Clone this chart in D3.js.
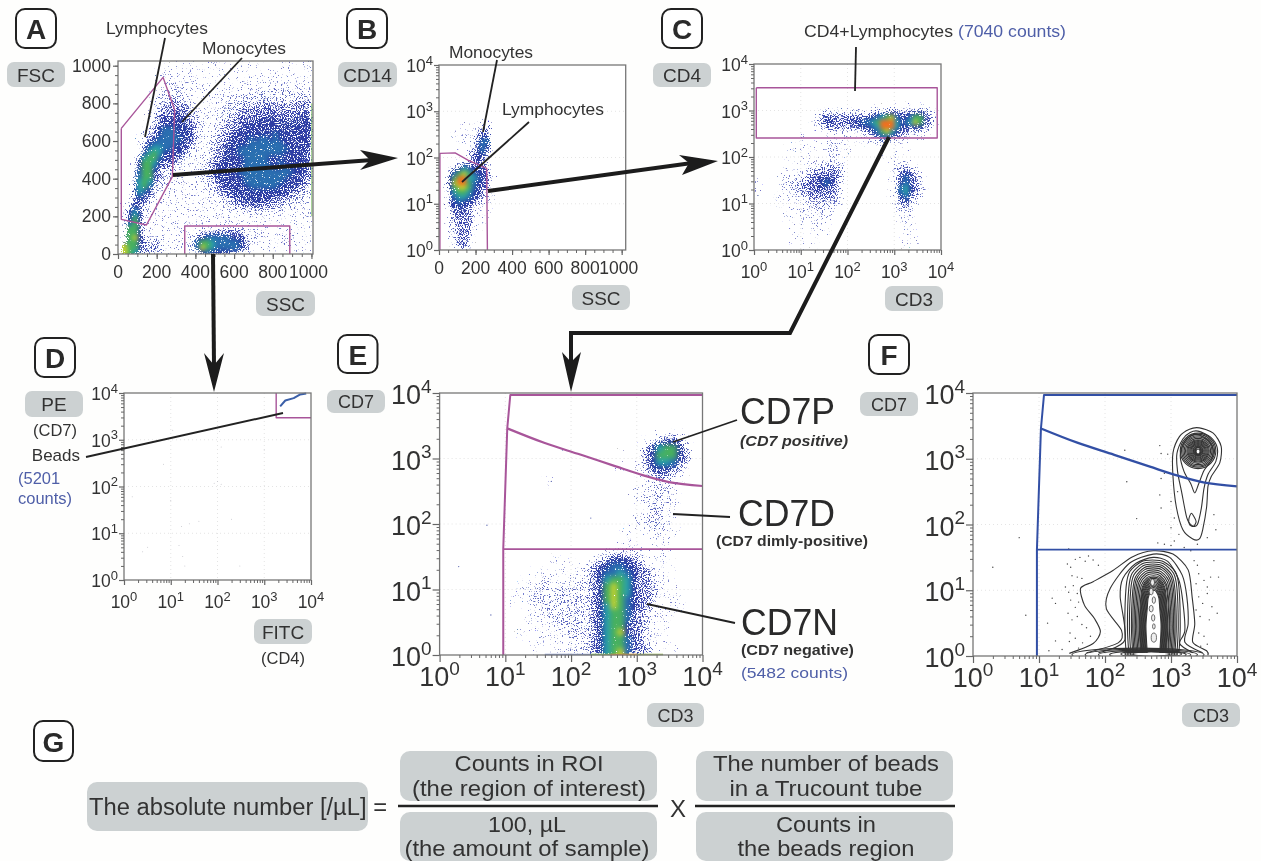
<!DOCTYPE html>
<html><head><meta charset="utf-8">
<script src="https://cdn.jsdelivr.net/npm/d3@7/dist/d3.min.js"></script>
<style>html,body{margin:0;padding:0;background:#fefefd}svg{display:block}text{font-family:"Liberation Sans",Arial,sans-serif}</style>
</head><body><svg id="c" width="1261" height="861"></svg>
<script>
// ---------- data ----------
// density digits: 0 (empty) .. 9 (peak). Panel A columns: SSC 0..1000 step 25; rows: FSC, top row first
const fscRowTop = 999;
const densityA = [
"0000000000 0011010001 1010001101 0001100011",
"0000000000 1111101010 1010011010 1010111011",
"0000000011 1111110101 0101101101 1011011011",
"0000000011 1111111011 0101101010 1111011111",
"0000000001 1211111101 1101011101 1111111111",
"0000000001 1212111111 1111111111 1121211111",
"0000000112 2221111111 1111121212 2222222222",
"0000000122 2222111111 1112122222 2222222222",
"0000000122 2322211111 1112222222 3222222323",
"0000000123 3333211111 1122223233 3333323333",
"0000000123 3333321111 1222233333 3333333333",
"0000001233 3443321111 1222333333 3433333343",
"0000001234 4444332111 1223333344 4443434344",
"0000001234 4444332111 1233334444 4444444444",
"0000012345 5544432111 2233344444 4444444444",
"0000012345 5544432111 2333444444 4454444444",
"0000123455 5554432112 2334444545 5454444444",
"0000124555 5544321112 2334444555 5555444444",
"0000135665 5444321112 3344455555 5555544443",
"0000146764 4443211122 3344455555 5555444443",
"0001367754 4332111122 3344445555 5444444443",
"0001477643 3321111123 3444445555 5445444443",
"0001477533 3211111223 4444445555 5544544443",
"0002577432 2211111223 4444455555 5555554443",
"0002577332 2111111223 4444445555 5555544433",
"0002676322 2111111122 3444445555 5555444432",
"0003675221 2111111122 3344444555 5554444332",
"0003654211 1111111112 2344444444 4444443322",
"0003543211 1111111111 2233444444 4444332222",
"0013432111 1111111111 1223334444 4333322221",
"0124321111 1111111111 1122333343 3332222111",
"0135321111 0111111111 1111222222 2222111111",
"0146421111 1011011111 1111111211 1111111111",
"0147411111 1101101111 1111111111 1111011011",
"0157311111 1111110101 0111010111 0101011011",
"0177311111 1111111111 1222221111 1001010101",
"0177411111 1111112333 3333331111 1011121001",
"0178421121 1111113455 5554442211 1112222111",
"0277432321 1111125776 5555543211 1111211111",
"0877332321 1111125876 5555543111 1111111011",
"0876332321 1111112454 4443311100 0101011000"];
// Panel B columns: SSC 0..325 step 25; rows: log10 CD14 from 2.9 down to 0
const densityB = [
"0000000000000","0000000011000","0000010012300","0000111023300","0001111034400",
"0000110135500","0000100235400","0000001345300","0000001344200","0000002343100",
"0001233343200","0013465444300","0035787544310","0047996654310","0048997544310",
"0047887543310","0036776443210","0035665432210","0034544332100","0034443221100",
"0023433211100","0023333211000","0023333101000","0022333101000","0022333100000",
"0012333100000","0012332000000","0002332000000","0000231000000"];
// Panel C columns: log10 CD3 0..4 step 0.1; rows: log10 CD4 from 3.1 down to 0
const densityC = [
"0000000000 0000000000 0000000000 0000000000",
"0000000000 0000000100 0010011011 1111111000",
"0000000000 0000222222 2222233334 3333343210",
"0000000000 0002343333 3333445678 5445773320",
"0000000000 0012344333 4445567999 6456873320",
"0000000000 0001233333 3334456999 6443443210",
"0000000000 0000011111 1122345786 4332221000",
"0000000000 1000000011 1111123553 3221110000",
"0000000000 1100011111 0011112221 1110000000",
"0000000101 1010112211 0000001110 1010000000",
"0000000100 1100112111 0000000100 1000000000",
"0000000010 1100112110 0000000100 1010000000",
"0000000101 1000112110 0000000001 0010000000",
"0000000100 0111222210 0000000000 2111000000",
"0000001010 1122323320 0000000001 2332100000",
"0000001011 1233333320 0000000000 2343210000",
"0000101112 2333444320 0000000001 2454321000",
"1000011222 3334454310 0000000001 2453320000",
"1000011222 3334433310 0000000001 2564320000",
"1000011122 2333333310 0000000001 2564321000",
"0000011111 2233333210 0000000001 2453210000",
"0000101111 1222222210 0000000000 1342100000",
"0000011011 1222222110 0000000000 1231100000",
"0000001011 1112212100 0000000000 1221000000",
"0000001001 1111111000 0000000000 1121000000",
"0000000100 1011110000 0000000000 0111000000",
"0000000000 1011100000 0000000000 0111000000",
"0000000010 1011100000 0000000000 0110000000",
"0000000010 1001010000 0000000000 0011000000",
"0000000010 1101000000 0000000000 0011000000",
"0000000010 1001000000 0000000000 0010100000",
"0000000000 1001000000 0000000000 0000000000"];
// Panel E columns: log10 CD3 0..4 step 0.1; rows: log10 CD7 from 3.3 down to 0
const densityE = [
"0000000000 0000000000 0000000000 0001222000",
"0000000000 0000000000 0000000000 0123443100",
"0000000000 0000000000 0000000000 1346774200",
"0000000000 0000000000 0000000100 1347774300",
"0000000000 0000000000 0000000000 1346653200",
"0000000000 0000000000 0000000100 1244432100",
"0000000000 0000000000 0000000000 1123321000",
"0000000000 0000001000 0000000000 0122110000",
"0000000000 0000000000 0000000001 1122210000",
"0000000000 0000000000 0000000001 1122110000",
"0000000000 0000000000 0000000000 1221211000",
"0000000000 0000000000 0000000000 0122110000",
"0000000000 0000000000 0000000001 1222110000",
"0000000000 0000000000 0000000001 1222100000",
"0000000000 0000000000 0000000000 0122110000",
"0000000000 0000000000 0000000010 1012110000",
"0000000000 0000000000 0000000010 0011100000",
"0000000000 0000000000 0000001111 0001100000",
"0000000000 0000000000 0000112222 1101100000",
"0000000000 0000000100 0001234443 2101100000",
"0000000000 0000000111 1123445544 3211010000",
"0000000000 0001011111 1123455654 3321100000",
"0000000000 0000111111 1123467764 3321100000",
"0000000000 0011122121 2223478764 3321110000",
"0000000000 0011221222 2223478764 3331110000",
"0000000000 0101222222 2223478754 3321111000",
"0000000000 0001122212 2223468754 3321111000",
"0000000000 0001112222 2223467753 3211110000",
"0000000000 0001111222 2223467753 3211100000",
"0000000000 0001011122 2223467743 3211100000",
"0000000000 0010011112 2223467843 3211100000",
"0000000000 0001011111 2223467753 3211000000",
"0000000000 0000110111 1123467753 3210100000",
"0000000000 0000101111 2223467853 3311010000"];

const gateALymph = [[17,667],[233,938],[293,765],[281,411],[147,154],[17,184],[17,667]];
const gateADebris = [[345,0],[345,149],[888,149],[888,0]];
const gateB = [[5,1],[5,123],[88,126],[161,87],[261,58],[265,1]];
const gateC = [[1.12,3090],[8300,3090],[8300,257],[1.12,257],[1.12,3090]];
const gateD = [[1800,10000],[1800,2960],[10000,2960]];
const gateCD7Outer = [[9.3,1],[9.3,41.4],[10.7,2884],[11.9,9330],[10000,9330]];
const gateCD7Mid = [[10.7,2884],[38.9,1738],[138,1148],[479,759],[1148,569],[3090,437],[10000,380]];
const gateCD7Low = [[9.3,41.4],[10000,41.4]];
const beadsCurve = [[2190,5190],[2820,6920],[4270,7760],[5890,9330],[7900,9800]];
const strayD = [[100,128],[120,112],[85,118],[3.2,5],[17,14],[25,16],[15,5.5],[40,18],[18,3.2],[2.5,4],[10,50],[200,20],[1.5,60],[7,300],[300,2],[1000,600],[120,700],[11,1600],[110,1500],[20,2]];
const pileupE = [[1.6,2.3,"#8a9bd0"],[2.3,2.6,"#7fbf5a"],[2.6,3.0,"#e0a030"],[3.0,3.4,"#9ab860"]];
const strayE = [[0.29,1.35],[0.78,0.61],[0.72,1.98],[2.3,2.09],[1.87,3.13],[1.7,2.65]];

// Panel F contours, decades (log10 CD3, log10 CD7)
const tailContours = [
 [[3.43,3.47],[3.64,3.39],[3.76,3.19],[3.74,2.94],[3.61,2.73],[3.56,2.58],[3.54,2.27],[3.48,1.92],[3.43,1.78],[3.33,1.78],[3.18,1.92],[3.08,2.27],[3.03,2.73],[3.03,3.09],[3.13,3.34],[3.28,3.45]],
 [[3.41,3.42],[3.60,3.33],[3.70,3.17],[3.68,2.96],[3.56,2.76],[3.50,2.55],[3.46,2.25],[3.40,2.0],[3.32,1.98],[3.24,2.1],[3.16,2.5],[3.10,2.8],[3.09,3.08],[3.18,3.3],[3.29,3.4]],
 [[3.31,2.17],[3.38,2.05],[3.34,1.97],[3.28,2.0],[3.27,2.08]],
 [[3.41,3.37],[3.57,3.27],[3.64,3.12],[3.60,2.96],[3.50,2.82],[3.42,2.62],[3.36,2.48],[3.30,2.62],[3.2,2.8],[3.14,3.05],[3.2,3.25],[3.3,3.35]]
];
const spotRings = [[3.41,3.12,.27,.27],[3.41,3.12,.25,.25],[3.41,3.12,.23,.23],[3.41,3.12,.21,.21],[3.41,3.12,.19,.19],[3.41,3.12,.17,.17],[3.41,3.12,.155,.155],[3.41,3.12,.14,.14],[3.41,3.12,.125,.125],[3.41,3.12,.11,.11],[3.41,3.12,.095,.095],[3.41,3.12,.08,.08],[3.41,3.12,.07,.07],[3.41,3.12,.06,.06],[3.41,3.12,.05,.05],[3.41,3.12,.04,.05]];
const lowContours = [
 [[1.46,.04],[1.82,.19],[1.93,.37],[1.84,.57],[1.69,.77],[1.63,1.03],[1.82,1.13],[2.12,1.30],[2.42,1.51],[2.73,1.60],[3.03,1.55],[3.26,1.31],[3.32,.90],[3.36,.49],[3.33,.21],[3.54,.08],[3.56,.01]],
 [[1.72,.05],[2.2,.2],[2.25,.39],[2.02,.72],[2.08,1.03],[2.37,1.41],[2.73,1.55],[2.98,1.50],[3.17,1.23],[3.24,.90],[3.26,.49],[3.21,.21],[3.48,.05]],
 [[1.9,.05],[2.3,.24],[2.23,.90],[2.27,1.18],[2.47,1.41],[2.73,1.5],[2.95,1.44],[3.11,1.18],[3.17,.90],[3.21,.39],[3.13,.19],[3.33,.05]]
];
// column-shaped contours: left edge, right edge, top (decades)
const columnRings = [[2.32,3.12,1.46],[2.36,3.09,1.43],[2.39,3.06,1.40],[2.42,3.04,1.37],[2.44,3.02,1.34],[2.46,3.0,1.31],[2.48,2.98,1.28],[2.50,2.96,1.25],[2.52,2.95,1.22],[2.54,2.93,1.2],[2.55,2.92,1.18],[2.56,2.91,1.16],[2.57,2.9,1.14],[2.58,2.89,1.12],[2.59,2.88,1.1],[2.6,2.87,1.08],[2.61,2.86,1.06],[2.62,2.85,1.04],[2.63,2.84,1.02],[2.64,2.83,1.0]];
const baseRings = [[2.5,.02,1.0,.1],[2.55,.02,.85,.085],[2.6,.02,.7,.07],[2.65,.02,.58,.06],[2.7,.03,.46,.05],[2.7,.03,.4,.045],[2.7,.03,.36,.04],[2.7,.03,.32,.037],[2.7,.03,.28,.035]];
const coreHoles = [[2.72,1.12,.03,.05],[2.7,.98,.03,.05],[2.74,.85,.025,.05],[2.7,.72,.03,.05],[2.73,.58,.025,.05],[2.74,.45,.02,.04],[2.74,.28,.04,.07]];
const dotsF = [[1.43,1.40],[1.48,1.35],[1.55,1.47],[1.62,1.5],[1.7,1.44],[1.75,1.52],[1.82,1.46],[1.9,1.38],[1.5,1.22],[1.58,1.2],[1.65,1.18],[1.4,1.05],[1.45,.97],[1.52,1.07],[1.58,.95],[1.2,.88],[1.25,.8],[1.48,.85],[1.55,.74],[1.6,.82],[1.44,.65],[1.5,.55],[1.58,.6],[1.65,.48],[1.72,.43],[1.47,.35],[1.46,.22],[1.55,.27],[1.66,.2],[1.78,.3],[1.13,.5],[1.25,.23],[1.15,.08],[1.35,.1],[1.6,.12],
[3.3,1.6],[3.35,1.45],[3.4,1.38],[3.42,1.25],[3.5,1.15],[3.38,1.1],[3.55,1.05],[3.6,1.2],[3.65,1.45],[3.72,1.2],[3.42,.9],[3.48,.8],[3.55,.95],[3.62,.75],[3.38,.7],[3.44,.6],[3.58,.55],[3.7,.65],[3.42,.35],[3.5,.3],[3.55,.18],[3.45,.15],
[2.8,1.72],[2.9,1.7],[3.0,1.68],[3.05,1.75],[3.12,1.85],[3.0,1.95],[3.05,2.1],[2.85,2.25],[3.0,2.35],[3.1,2.5],[2.83,2.45],[2.85,2.7],[2.9,2.78],[2.83,3.2],[2.85,3.08],[2.95,3.07],[2.3,3.13],[2.33,2.65],[2.48,2.09],[3.65,2.15],[3.68,1.92],[3.55,1.8],[3.4,1.7],[3.2,1.65],[.3,1.35],[.8,.62],[.7,1.8],[1.45,1.63]];

const linearTicks = [0,200,400,600,800,1000];
const linearMinor = d3.range(0,1001,50);
const decades = [1,10,100,1000,10000];

// ---------- layout and style ----------
const ink="#333", blue="#4f5fa8", pink="#a8559a", gateBlue="#3350a5", chip="#ccd1d2";
const levelAlpha=[0,.12,.25,.42,.62,.85,1,1,1,1];
const levelColor=["#fff","#7a84cc","#5c68c0","#3a46ad","#2d3fa5","#2a6fb0","#2aa0a8","#47b060","#c0d030","#f07020"];

const svg=d3.select("#c");
const defs=svg.append("defs");
function stipple(id,sd,seed){
  const f=defs.append("filter").attr("id",id).attr("x",0).attr("y",0).attr("width","100%").attr("height","100%")
    .attr("color-interpolation-filters","sRGB");
  f.append("feGaussianBlur").attr("in","SourceGraphic").attr("stdDeviation",sd).attr("result","b");
  f.append("feTurbulence").attr("type","fractalNoise").attr("baseFrequency",.85).attr("numOctaves",2).attr("seed",seed).attr("result","n");
  f.append("feColorMatrix").attr("in","n").attr("type","matrix").attr("values","0 0 0 0 0 0 0 0 0 0 0 0 0 0 0 0 0 0 1 0").attr("result","na");
  f.append("feComposite").attr("in","b").attr("in2","na").attr("operator","arithmetic")
    .attr("k1",0).attr("k2",.55).attr("k3",1).attr("k4",-.73).attr("result","sum");
  const m=f.append("feComponentTransfer").attr("in","sum").attr("result","mask");
  m.append("feFuncA").attr("type","linear").attr("slope",14).attr("intercept",0);
  const s=f.append("feComponentTransfer").attr("in","b").attr("result","solid");
  s.append("feFuncA").attr("type","linear").attr("slope",60).attr("intercept",0);
  f.append("feComposite").attr("in","solid").attr("in2","mask").attr("operator","in").attr("result","dots");
  f.append("feGaussianBlur").attr("in","dots").attr("stdDeviation",.5);
}
stipple("st1",2.0,3); stipple("st2",2.0,8); stipple("st3",2.0,14); stipple("st4",2.6,21);
defs.append("filter").attr("id","soft").attr("x",0).attr("y",0).attr("width","100%").attr("height","100%")
  .append("feGaussianBlur").attr("stdDeviation",.45);

const root=svg.append("g").attr("filter","url(#soft)");
root.append("rect").attr("width",1261).attr("height",861).attr("fill","#fefefd");

function T(s,x,y,o={}){
  const t=root.append("text").attr("x",x).attr("y",y).text(s)
    .attr("font-size",o.size||17).attr("fill",o.fill||ink)
    .attr("text-anchor",o.anchor||"middle").attr("dominant-baseline",o.base||"central");
  if(o.weight)t.attr("font-weight",o.weight);
  if(o.italic)t.attr("font-style","italic");
  if(o.len)t.attr("textLength",o.len).attr("lengthAdjust","spacingAndGlyphs");
  return t;
}
function chipBox(x0,y0,x1,y1,r=7){root.append("rect").attr("x",x0).attr("y",y0).attr("width",x1-x0).attr("height",y1-y0).attr("rx",r).attr("fill",chip);}
function chipText(s,x0,y0,x1,y1,o={}){chipBox(x0,y0,x1,y1);T(s,(x0+x1)/2,(y0+y1)/2+.5,Object.assign({size:19},o));}
function letter(s,x0,y0,x1,y1){
  root.append("rect").attr("x",x0).attr("y",y0).attr("width",x1-x0).attr("height",y1-y0).attr("rx",9)
    .attr("fill","#fff").attr("stroke","#222").attr("stroke-width",2);
  T(s,(x0+x1)/2,(y0+y1)/2+1,{size:28,weight:"bold",fill:"#2a2a2a"});
}

let clipN=0;
function panel(p){
  const x=(p.xLog?d3.scaleLog():d3.scaleLinear()).domain(p.xD).range([p.l,p.r]);
  const y=(p.yLog?d3.scaleLog():d3.scaleLinear()).domain(p.yD).range([p.b,p.t]);
  const id="clip"+(clipN++);
  defs.append("clipPath").attr("id",id).append("rect").attr("x",p.l).attr("y",p.t).attr("width",p.r-p.l).attr("height",p.b-p.t);
  const g=root.append("g");
  g.append("rect").attr("x",p.l).attr("y",p.t).attr("width",p.r-p.l).attr("height",p.b-p.t).attr("fill","#fff");
  const inner=g.append("g").attr("clip-path",`url(#${id})`);
  return {x,y,g,inner,p};
}
function faintGrid(P){
  const {x,y,inner,p}=P;
  [10,100,1000].forEach(v=>{
    if(p.xLog)inner.append("line").attr("x1",x(v)).attr("x2",x(v)).attr("y1",p.t).attr("y2",p.b).attr("stroke","#e4e4e4").attr("stroke-dasharray","1 3");
    if(p.yLog)inner.append("line").attr("y1",y(v)).attr("y2",y(v)).attr("x1",p.l).attr("x2",p.r).attr("stroke","#e4e4e4").attr("stroke-dasharray","1 3");
  });
}
function density(P,rows,xEdge,yEdge,filt){
  const cells=[];
  rows.forEach((r,i)=>{const s=r.replace(/ /g,"");[...s].forEach((ch,j)=>{if(ch!=="0")cells.push({i,j,v:+ch});});});
  const holder=P.inner.append("g").attr("filter",`url(#${filt})`);
  holder.append("rect").attr("x",P.p.l).attr("y",P.p.t).attr("width",P.p.r-P.p.l).attr("height",P.p.b-P.p.t).attr("fill","none").attr("stroke","#fff").attr("stroke-opacity",.001);
  holder.selectAll("rect.c").data(cells).join("rect").attr("class","c")
    .attr("x",d=>P.x(xEdge(d.j))).attr("width",d=>Math.abs(P.x(xEdge(d.j+1))-P.x(xEdge(d.j)))+.5)
    .attr("y",d=>P.y(yEdge(d.i))).attr("height",d=>Math.abs(P.y(yEdge(d.i+1))-P.y(yEdge(d.i)))+.5)
    .attr("fill",d=>levelColor[d.v]).attr("fill-opacity",d=>levelAlpha[d.v]);
}
function gatePath(P,pts,color,w,curved){
  const l=d3.line().x(d=>P.x(d[0])).y(d=>P.y(d[1]));
  if(curved)l.curve(d3.curveMonotoneX);
  P.g.append("path").attr("d",l(pts)).attr("fill","none").attr("stroke",color).attr("stroke-width",w).attr("stroke-linejoin","round");
}
function frame(P){
  const p=P.p;
  P.g.append("rect").attr("x",p.l).attr("y",p.t).attr("width",p.r-p.l).attr("height",p.b-p.t).attr("fill","none").attr("stroke","#777").attr("stroke-width",1.3);
}
function axes(P,big){
  const {x,y,g,p}=P, fs=big?27:17.5, es=big?19:13;
  function ax(a,tf){const s=g.append("g").attr("transform",tf).call(a);s.select(".domain").remove();s.selectAll("line").attr("stroke","#666");s.selectAll("text").remove();return s;}
  const minorLog=[];decades.slice(0,4).forEach(d=>{for(let k=2;k<10;k++)minorLog.push(d*k);});
  const xMaj=p.xLog?decades:linearTicks, xMin=p.xLog?minorLog:linearMinor;
  const yMaj=p.yLog?decades:linearTicks, yMin=p.yLog?minorLog:linearMinor;
  ax(d3.axisBottom(x).tickValues(xMin).tickSize(3),`translate(0,${p.b})`);
  ax(d3.axisBottom(x).tickValues(xMaj).tickSize(big?7:5),`translate(0,${p.b})`).selectAll("line").attr("stroke-width",1.2);
  ax(d3.axisLeft(y).tickValues(yMin).tickSize(3),`translate(${p.l},0)`);
  ax(d3.axisLeft(y).tickValues(yMaj).tickSize(big?7:5),`translate(${p.l},0)`).selectAll("line").attr("stroke-width",1.2);
  const powLabel=(v,px,py,anchor)=>{
    const t=g.append("text").attr("x",px).attr("y",py).attr("text-anchor",anchor).attr("font-size",fs).attr("fill",ink);
    t.append("tspan").text("10");
    t.append("tspan").text(Math.round(Math.log10(v))).attr("font-size",es).attr("dy",-fs*.42);
  };
  xMaj.forEach(v=>{
    if(p.xLog)powLabel(v,x(v),p.b+(big?31:28),"middle");
    else g.append("text").attr("x",x(v)-(v===1000?3:0)).attr("y",p.b+24).attr("text-anchor","middle").attr("font-size",fs).attr("fill",ink).text(v);
  });
  yMaj.forEach(v=>{
    if(p.yLog)powLabel(v,p.l-(big?8:6),y(v)+(big?11:7),"end");
    else g.append("text").attr("x",p.l-7).attr("y",y(v)+6).attr("text-anchor","end").attr("font-size",fs).attr("fill",ink).text(v);
  });
}
const logD=[1,10000];
const colLin=j=>j*25, colLog=j=>Math.pow(10,j/10);

// ---------- panel A ----------
const A=panel({l:118,r:313,t:61,b:254,xD:[0,1008],yD:[0,1025]});
density(A,densityA,colLin,i=>fscRowTop-i*25+25,"st1");
A.inner.append("line").attr("x1",A.x(1002)).attr("x2",A.x(1002)).attr("y1",A.y(800)).attr("y2",A.y(200)).attr("stroke","#7fbf6a").attr("stroke-width",1);
gatePath(A,gateALymph,pink,1.4); gatePath(A,gateADebris,pink,1.4);
frame(A); axes(A,false);

// ---------- panel B ----------
const B=panel({l:439,r:625.7,t:65,b:250,xD:[0,1022],yD:logD,yLog:true});
faintGrid(B);
density(B,densityB,colLin,i=>Math.pow(10,2.9-i/10),"st2");
gatePath(B,gateB,pink,1.4); frame(B); axes(B,false);

// ---------- panel C ----------
const C=panel({l:754,r:941,t:64,b:250,xD:logD,yD:logD,xLog:true,yLog:true});
faintGrid(C);
density(C,densityC,colLog,i=>Math.pow(10,3.2-i/10),"st3");
gatePath(C,gateC,pink,1.4); frame(C); axes(C,false);

// ---------- panel D ----------
const D=panel({l:124,r:311,t:393,b:580,xD:logD,yD:logD,xLog:true,yLog:true});
faintGrid(D);
D.inner.selectAll("circle").data(strayD).join("circle").attr("cx",d=>D.x(d[0])).attr("cy",d=>D.y(d[1])).attr("r",.5).attr("fill","#c5c5cc");
gatePath(D,gateD,pink,1.4);
gatePath(D,beadsCurve,"#3a5fa8",2); frame(D); axes(D,false);

// ---------- panel E ----------
const E=panel({l:439.6,r:702.5,t:393,b:655,xD:logD,yD:logD,xLog:true,yLog:true});
faintGrid(E);
density(E,densityE,colLog,i=>Math.pow(10,3.4-i/10),"st4");
E.inner.selectAll("circle").data(strayE).join("circle").attr("cx",d=>E.x(10**d[0])).attr("cy",d=>E.y(10**d[1])).attr("r",.7).attr("fill","#6a74b8");
E.g.selectAll("line.pile").data(pileupE).join("line").attr("class","pile").attr("x1",d=>E.x(10**d[0])).attr("x2",d=>E.x(10**d[1])).attr("y1",E.y(1)-.5).attr("y2",E.y(1)-.5).attr("stroke",d=>d[2]).attr("stroke-width",1.6);
gatePath(E,gateCD7Outer,pink,2);gatePath(E,gateCD7Mid,pink,2.2,true);gatePath(E,gateCD7Low,pink,1.8);
frame(E); axes(E,true);

// ---------- panel F ----------
const F=panel({l:973,r:1237,t:393,b:656,xD:logD,yD:logD,xLog:true,yLog:true});
faintGrid(F);
const fx=v=>F.x(10**v), fy=v=>F.y(10**v);
F.inner.selectAll("circle.dot").data(dotsF).join("circle").attr("class","dot").attr("cx",d=>fx(d[0])).attr("cy",d=>fy(d[1])).attr("r",.7).attr("fill","#444");
const closed=d3.line().x(d=>fx(d[0])).y(d=>fy(d[1])).curve(d3.curveCardinalClosed.tension(.2));
const open=d3.line().x(d=>fx(d[0])).y(d=>fy(d[1])).curve(d3.curveCardinal.tension(.2));
const cG=F.inner.append("g").attr("fill","none").attr("stroke","#333").attr("stroke-width",1.1);
tailContours.forEach(c=>cG.append("path").attr("d",closed(c)));
const ring=(a,fill)=>a.forEach(d=>cG.append("ellipse").attr("cx",fx(d[0])).attr("cy",fy(d[1])).attr("rx",fx(d[0]+d[2])-fx(d[0])).attr("ry",fy(d[1])-fy(d[1]+d[3])).attr("fill",fill||"none"));
ring(spotRings);
cG.append("ellipse").attr("cx",fx(3.41)).attr("cy",fy(3.11)).attr("rx",2).attr("ry",2.5).attr("fill","#fff");
lowContours.forEach(c=>cG.append("path").attr("d",open(c)));
columnRings.forEach(c=>{
  const w=c[1]-c[0];
  const pts=[[c[0],.05],[c[0]-.02,.45],[c[0],c[2]*.72],[c[0]+w*.07,c[2]*.88],[c[0]+w*.28,c[2]*.98],[c[0]+w*.5,c[2]],[c[1]-w*.28,c[2]*.98],[c[1]-w*.07,c[2]*.88],[c[1],c[2]*.72],[c[1]+.02,.45],[c[1],.05]];
  cG.append("path").attr("d",open(pts));
});
ring(baseRings);
coreHoles.forEach(d=>cG.append("ellipse").attr("cx",fx(d[0])).attr("cy",fy(d[1])).attr("rx",fx(d[0]+d[2])-fx(d[0])).attr("ry",fy(d[1])-fy(d[1]+d[3])).attr("fill","#eee").attr("stroke-width",.7));
gatePath(F,gateCD7Outer,gateBlue,2);gatePath(F,gateCD7Mid,gateBlue,2.4,true);gatePath(F,gateCD7Low,gateBlue,1.8);
frame(F); axes(F,true);

// ---------- annotation lines and arrows ----------
const leaders=[[165,38,145,137,1.8],[242,58,182,122,1.8],[497,60,483,132,1.8],[529,122,462,182,1.8],[856,47,855,91,1.8],[86,457,283,413,2],[737,420,673,442,1.8],[730,517,673,514,1.8],[735,623,647,604,1.8]];
root.selectAll("line.lead").data(leaders).join("line").attr("class","lead").attr("x1",d=>d[0]).attr("y1",d=>d[1]).attr("x2",d=>d[2]).attr("y2",d=>d[3]).attr("stroke","#222").attr("stroke-width",d=>d[4]);
const shafts=[[[173,175],[372,160]],[[488,191],[692,163]],[[213,254],[214,366]],[[889,137],[790,333],[571,333],[571,364]]];
shafts.forEach(s=>root.append("path").attr("d",d3.line()(s)).attr("fill","none").attr("stroke","#1c1c1c").attr("stroke-width",4).attr("stroke-linejoin","miter"));
const heads=[[[398,158],[360,150],[370,160],[360,170]],[[718,161],[679,155],[689,163],[682,175]],[[214,392],[204,353],[214,365],[224,353]],[[571,392],[562,352],[571,362],[581,352]]];
heads.forEach(h=>root.append("path").attr("d","M"+h.join("L")+"Z").attr("fill","#1c1c1c"));

// ---------- labels ----------
letter("A",16,9,56,48);letter("B",347,9,387,48);letter("C",662,9,702,48);
letter("D",35,338,75,377);letter("E",338,335,377.5,373);letter("F",869,335,909,374);letter("G",34,721,73,761);

chipText("FSC",7,62,65,87);chipText("SSC",256,291,315,316);
chipText("CD14",338,62,397,87);chipText("SSC",572,285,630,310);
chipText("CD4",653,63,711,87);chipText("CD3",885,286,943,311);
chipText("PE",25,391,83,417);chipText("FITC",254,619,312,644);
chipText("CD7",327,390,385,413,{size:18});chipText("CD3",647,703,704,727,{size:18});
chipText("CD7",860,392,918,416,{size:18});chipText("CD3",1182,703,1240,727,{size:18});

T("Lymphocytes",157,28,{size:17.4});T("Monocytes",244,48,{size:17.4});
T("Monocytes",491,52,{size:17.4});T("Lymphocytes",553,109,{size:17.4});
T("CD4+Lymphocytes",804,31,{size:17,anchor:"start",len:149});
T("(7040 counts)",958,31,{size:17,anchor:"start",fill:blue,len:108});
T("(CD7)",55,430,{size:16.5});T("Beads",80,455,{size:17,anchor:"end"});
T("(5201",18,478,{size:16.5,anchor:"start",fill:blue});T("counts)",18,498,{size:16.5,anchor:"start",fill:blue});
T("(CD4)",283,658,{size:16.5});

T("CD7P",740,424,{size:36,anchor:"start",base:"auto",fill:"#2a2a2a",len:95});
T("(CD7 positive)",740,441,{size:14,anchor:"start",weight:"bold",italic:true,len:108});
T("CD7D",738,526,{size:36,anchor:"start",base:"auto",fill:"#2a2a2a",len:97});
T("(CD7 dimly-positive)",716,541,{size:14,anchor:"start",weight:"bold",len:152});
T("CD7N",741,635,{size:36,anchor:"start",base:"auto",fill:"#2a2a2a",len:97});
T("(CD7 negative)",741,650,{size:14,anchor:"start",weight:"bold",len:113});
T("(5482 counts)",741,673,{size:14.5,anchor:"start",fill:blue,len:107});

// ---------- formula ----------
chipBox(87,782,368,831,10);chipBox(400,751,657,801,10);chipBox(400,812,657,861,10);chipBox(696,751,953,801,10);chipBox(696,812,953,861,10);
T("The absolute number [/\u00b5L] =",89,807,{size:23,anchor:"start",len:298});
T("Counts in ROI",529,764,{size:21.5,len:149});T("(the region of interest)",529,788.7,{size:21.5,len:234});
T("100, \u00b5L",527,824.5,{size:21.5,len:78});T("(the amount of sample)",527,849,{size:21.5,len:245});
T("The number of beads",826,764,{size:21.5,len:226});T("in a Trucount tube",826,788.7,{size:21.5,len:193});
T("Counts in",826,824.5,{size:21.5,len:100});T("the beads region",826,849,{size:21.5,len:177});
T("X",678,808,{size:24});
[[398,658],[695,955]].forEach(d=>root.append("line").attr("x1",d[0]).attr("x2",d[1]).attr("y1",806).attr("y2",806).attr("stroke","#222").attr("stroke-width",2.6));
</script></body></html>
